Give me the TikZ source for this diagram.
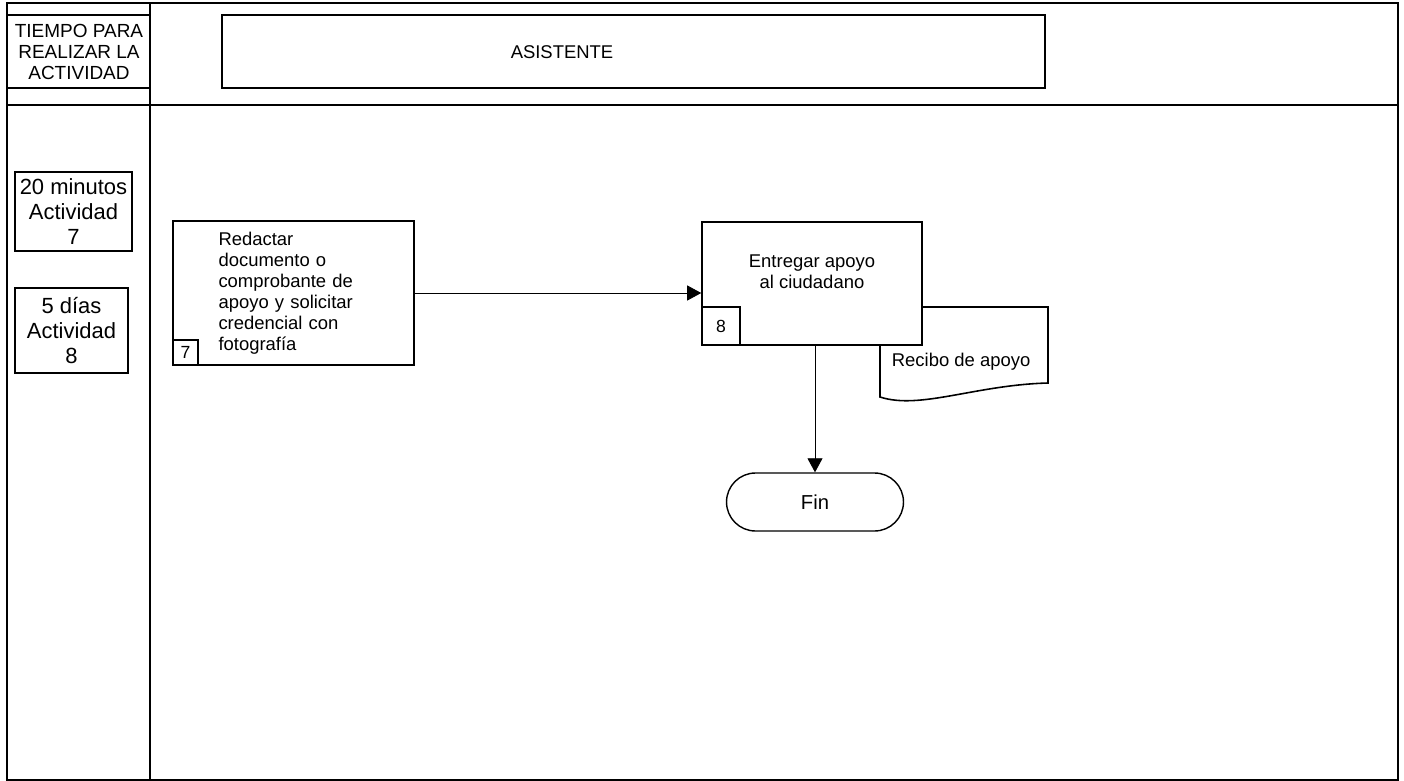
\documentclass[tikz,border=0pt]{standalone}
\usepackage{fontspec}
\setmainfont{Liberation Sans}
\usetikzlibrary{arrows.meta}

\begin{document}
\begin{tikzpicture}[x = 0.02cm, y = -0.02cm, line width = 0.8pt,
                        frame/.style = {line width = 0.9pt},
                        activity/.style = {rectangle, draw, fill = white, line width = 0.9pt, minimum width = 4.82cm, minimum height = 2.88cm},
                        numbox/.style = {rectangle, draw, line width = 0.9pt, inner sep = 0pt, font = \fontsize{10}{11}\selectfont},
                        timebox/.style = {rectangle, draw, line width = 0.9pt, align = center, inner sep = 0pt, font = \fontsize{12.5}{14.2}\selectfont},
                        terminal/.style = {rectangle, draw, rounded corners = 0.58cm, minimum width = 3.54cm, minimum height = 1.16cm, font = \fontsize{11.5}{13}\selectfont},
                        flow/.style = {-{Triangle[length = 0.28cm, width = 0.3cm]}, line width = 0.5pt}]
      \useasboundingbox (0, 0) rectangle (1404, 781);
      \fontsize{10.5}{12}\selectfont
      % lanes
      \draw [frame] (7, 3) rectangle (1398, 780);
      \draw [frame] (150, 3) -- (150, 780);
      \draw [frame] (7, 105) -- (1398, 105);
      \draw [frame] (7, 15) -- (150, 15);
      \draw [frame] (7, 88) -- (150, 88);
      \node [align = center, font = \fontsize{10.8}{12}\selectfont] (tiempo) at (79, 52){TIEMPO PARA\\REALIZAR LA\\ACTIVIDAD};
      \draw [frame] (222, 15) rectangle (1045, 88);
      \node (asistente) at (562, 52){ASISTENTE};
      % times
      \node [timebox, minimum width = 2.34cm, minimum height = 1.58cm] (t7) at (73.5, 211.5){20 minutos\\Actividad\\7};
      \node [timebox, minimum width = 2.26cm, minimum height = 1.7cm] (t8) at (71.5, 330.5){5 días\\Actividad\\8};
      % document behind activity 8
      \coordinate (d1) at (880, 307);
      \coordinate (d2) at (1048, 307);
      \coordinate (d3) at (1048, 383);
      \coordinate (d4) at (880, 397);
      \draw [fill = white, line width = 0.9pt] (d1) -- (d2) -- (d3) .. controls (975, 385) and (920, 410) .. (d4) -- cycle;
      \node [anchor = west] (recibo) at (885, 362){Recibo de apoyo};
      % activities
      \node [activity, align = left, text width = 3.0cm] (a7) at (293.5, 293){Redactar\\documento o\\comprobante de\\apoyo y solicitar\\credencial con\\fotografía};
      \node [numbox, anchor = south west, minimum size = 0.5cm] (n7) at (a7.south west){7};
      \node [activity, minimum width = 4.4cm, minimum height = 2.46cm] (a8) at (812, 283.5){};
      \node [align = center] (a8txt) at ([yshift = 0.24cm] a8.center){Entregar apoyo\\al ciudadano};
      \node [numbox, anchor = south west, minimum size = 0.76cm] (n8) at (a8.south west){8};
      \node [terminal] (fin) at (815, 502){Fin};
      \draw [flow] (a7.east) -- (a8.west |- a7.east);
      \draw [flow] (a8.south -| fin.north) -- (fin.north);
    \end{tikzpicture}
\end{document}
